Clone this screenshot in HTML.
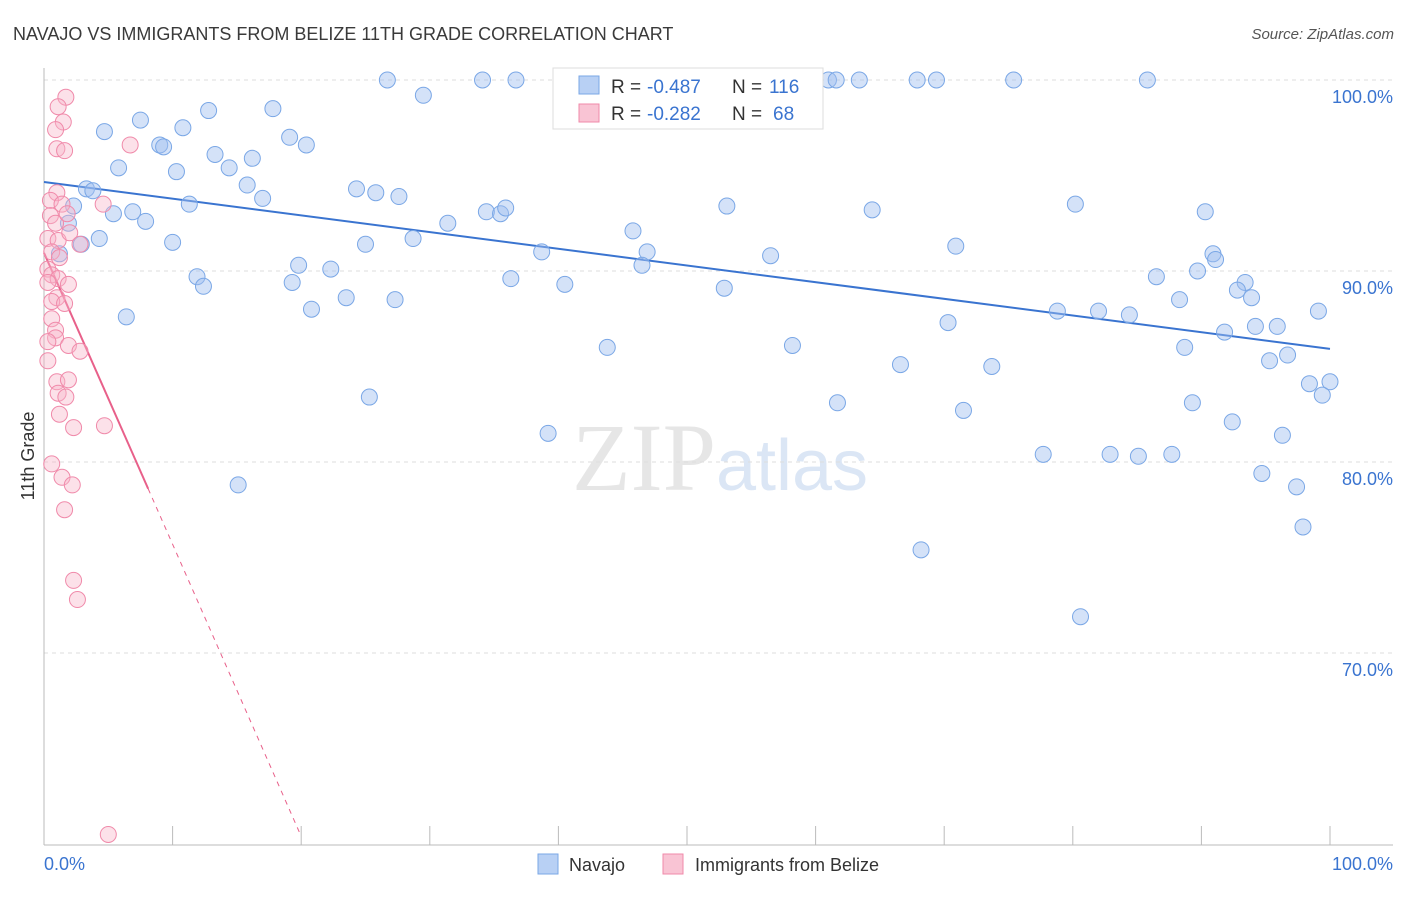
<!DOCTYPE html>
<html><head><meta charset="utf-8">
<style>
body{margin:0;background:#fff;font-family:"Liberation Sans",sans-serif;}
</style></head>
<body>
<svg id="chart" width="1406" height="892" xmlns="http://www.w3.org/2000/svg" style="font-family:'Liberation Sans',sans-serif">
<text x="13" y="40" font-size="18" fill="#3a3a3a" style="font-weight:300">NAVAJO VS IMMIGRANTS FROM BELIZE 11TH GRADE CORRELATION CHART</text>
<text x="1394" y="39" font-size="15" fill="#555" text-anchor="end" font-style="italic">Source: ZipAtlas.com</text>
<text x="720" y="490" font-size="96" text-anchor="middle" fill="#e6e6e6" font-family="Liberation Serif">ZIP<tspan fill="#dbe6f5" font-family="Liberation Sans" font-size="72">atlas</tspan></text>
<text transform="translate(34,456) rotate(-90)" font-size="18" fill="#333" text-anchor="middle">11th Grade</text>
<g id="grid"></g><g id="axes"></g><g id="trends"></g><g id="pts"></g>
<g>
<rect x="553" y="68" width="270" height="61" fill="#fff" stroke="#ddd"/>
<rect x="579" y="76" width="20" height="18" fill="#b8d0f4" stroke="#7aa7e6"/>
<rect x="579" y="104" width="20" height="18" fill="#f9c4d4" stroke="#f08aaa"/>
<text x="611" y="93" font-size="19" fill="#333">R =</text>
<text x="647" y="93" font-size="19" fill="#3a74d0">-0.487</text>
<text x="732" y="93" font-size="19" fill="#333">N =</text>
<text x="769" y="93" font-size="19" fill="#3a74d0">116</text>
<text x="611" y="120" font-size="19" fill="#333">R =</text>
<text x="647" y="120" font-size="19" fill="#3a74d0">-0.282</text>
<text x="732" y="120" font-size="19" fill="#333">N =</text>
<text x="773" y="120" font-size="19" fill="#3a74d0">68</text>
</g>
<g>
<rect x="538" y="854" width="20" height="20" fill="#b8d0f4" stroke="#7aa7e6"/>
<text x="569" y="871" font-size="18" fill="#333">Navajo</text>
<rect x="663" y="854" width="20" height="20" fill="#f9c4d4" stroke="#f08aaa"/>
<text x="695" y="871" font-size="18" fill="#333">Immigrants from Belize</text>
</g>
</svg>
<script>
const yTicks=[100,90,80,70];
const yTickLabels=["100.0%","90.0%","80.0%","70.0%"];
const xTicks=[0,10,20,30,40,50,60,70,80,90,100];
const blueX=[26.7,34.1,36.7,52.4,61.0,61.6,63.4,67.9,69.4,75.4,85.8,29.5,12.8,17.8,7.5,4.7,10.8,19.1,9.0,9.3,20.4,13.3,16.2,5.8,14.4,10.3,15.8,24.3,25.8,27.6,17.0,3.3,3.8,2.3,11.3,6.9,5.4,7.9,1.9,34.4,35.5,35.9,31.4,28.7,25.0,10.0,4.3,1.2,2.9,45.8,38.7,46.9,46.5,53.1,64.4,70.9,56.5,80.2,90.3,90.9,91.1,19.8,22.3,11.9,12.4,19.3,36.3,40.5,52.9,23.5,27.3,20.8,6.4,86.5,89.7,93.4,92.8,93.9,88.3,99.1,78.8,82.0,84.4,70.3,91.8,94.2,95.9,43.8,58.2,88.7,96.7,95.3,66.6,73.7,98.4,100.0,99.4,25.3,61.7,71.5,89.3,92.4,39.2,96.3,77.7,82.9,85.1,87.7,15.1,94.7,97.4,97.9,68.2,80.6];
const blueY=[100,100,100,100,100,100,100,100,100,100,100,99.2,98.4,98.5,97.9,97.3,97.5,97.0,96.6,96.5,96.6,96.1,95.9,95.4,95.4,95.2,94.5,94.3,94.1,93.9,93.8,94.3,94.2,93.4,93.5,93.1,93.0,92.6,92.5,93.1,93.0,93.3,92.5,91.7,91.4,91.5,91.7,90.9,91.4,92.1,91.0,91.0,90.3,93.4,93.2,91.3,90.8,93.5,93.1,90.9,90.6,90.3,90.1,89.7,89.2,89.4,89.6,89.3,89.1,88.6,88.5,88.0,87.6,89.7,90.0,89.4,89.0,88.6,88.5,87.9,87.9,87.9,87.7,87.3,86.8,87.1,87.1,86.0,86.1,86.0,85.6,85.3,85.1,85.0,84.1,84.2,83.5,83.4,83.1,82.7,83.1,82.1,81.5,81.4,80.4,80.4,80.3,80.4,78.8,79.4,78.7,76.6,75.4,71.9];
const pinkX=[1.7,1.1,1.5,0.9,6.7,1.0,1.6,1.0,0.5,1.4,4.6,0.5,0.9,1.8,0.3,1.1,2.0,2.8,0.6,1.2,0.3,0.6,1.1,0.3,1.9,1.0,0.6,1.6,0.6,0.9,0.9,0.3,1.9,2.8,0.3,1.0,1.9,1.1,1.7,1.2,2.3,4.7,0.6,1.4,2.2,1.6,2.3,2.6,5.0];
const pinkY=[99.1,98.6,97.8,97.4,96.6,96.4,96.3,94.1,93.7,93.5,93.5,92.9,92.5,93.0,91.7,91.6,92.0,91.4,91.0,90.7,90.1,89.8,89.6,89.4,89.3,88.6,88.4,88.3,87.5,86.9,86.5,86.3,86.1,85.8,85.3,84.2,84.3,83.6,83.4,82.5,81.8,81.9,79.9,79.2,78.8,77.5,73.8,72.8,60.5];
const blueTrendX=[0,100], blueTrendY=[94.66,85.92];
const pinkTrendX=[0,8.1,20], pinkTrendY=[90.95,78.6,60.4];
const NS="http://www.w3.org/2000/svg";
const sx=v=>44+v*12.86, sy=v=>80+(100-v)*19.1;
function mk(t,a,p){const e=document.createElementNS(NS,t);for(const k in a)e.setAttribute(k,a[k]);p.appendChild(e);return e;}
const grid=document.getElementById('grid'),axes=document.getElementById('axes'),tr=document.getElementById('trends'),pts=document.getElementById('pts');
yTicks.forEach((t,i)=>{
 const l=mk('line',{x1:44,x2:1393,y1:sy(t),y2:sy(t),stroke:'#ddd','stroke-dasharray':'4,4'},grid);
 
 
 const tx=mk('text',{x:1393,y:sy(t)+23,'font-size':18,fill:'#3a74d0','text-anchor':'end'},grid);
 tx.textContent=yTickLabels[i];
 
 
});
const xa=mk('line',{x1:44,x2:1393,y1:845,y2:845,stroke:'#bbb'},axes);


const ya=mk('line',{x1:44,x2:44,y1:68,y2:845,stroke:'#bbb'},axes);


xTicks.forEach(t=>{const l=mk('line',{x1:sx(t),x2:sx(t),y1:826,y2:845,stroke:'#bbb'},axes);
 
 });
[[0,'0.0%','start',44],[100,'100.0%','end',1393]].forEach(d=>{const tx=mk('text',{x:d[3],y:870,'font-size':18,fill:'#3a74d0','text-anchor':d[2]},axes);tx.textContent=d[1];
 
 });
blueX.forEach((x,i)=>{const c=mk('circle',{cx:sx(x),cy:sy(blueY[i]),r:8,fill:'rgba(160,190,240,0.45)',stroke:'#7aa7e6','stroke-width':1},pts);
 
 });
pinkX.forEach((x,i)=>{const c=mk('circle',{cx:sx(x),cy:sy(pinkY[i]),r:8,fill:'rgba(248,180,200,0.4)',stroke:'#f08aaa','stroke-width':1},pts);
 
 });
const bl=mk('line',{x1:sx(blueTrendX[0]),y1:sy(blueTrendY[0]),x2:sx(blueTrendX[1]),y2:sy(blueTrendY[1]),stroke:'#3a74d0','stroke-width':2},tr);


const pl=mk('line',{x1:sx(pinkTrendX[0]),y1:sy(pinkTrendY[0]),x2:sx(pinkTrendX[1]),y2:sy(pinkTrendY[1]),stroke:'#e8608a','stroke-width':2},tr);


const pd=mk('line',{x1:sx(pinkTrendX[1]),y1:sy(pinkTrendY[1]),x2:sx(pinkTrendX[2]),y2:sy(pinkTrendY[2]),stroke:'#e8608a','stroke-width':1,'stroke-dasharray':'5,5'},tr);


</script>
</body></html>
